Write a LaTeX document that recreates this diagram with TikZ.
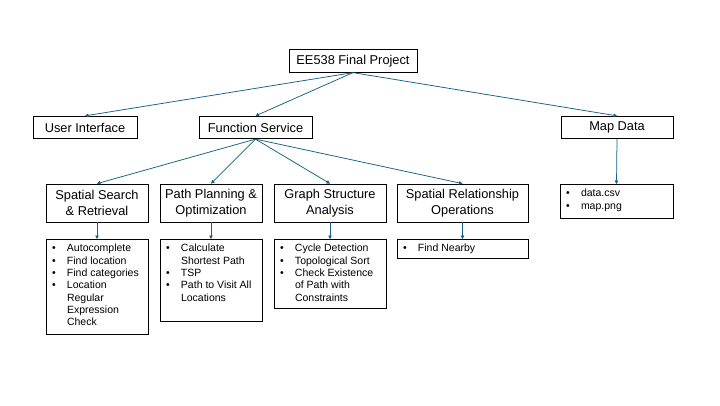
\documentclass[tikz,border=0pt]{standalone}
\usepackage{fontspec}
\setmainfont{Liberation Sans}
\usepackage{xcolor}
\usetikzlibrary{positioning,arrows.meta}
\definecolor{linkblue}{HTML}{156082}
\newcommand{\titlefont}{\fontsize{12.8}{16.5}\selectfont}
\newcommand{\listfont}{\fontsize{10.5}{12.3}\selectfont}
\newcommand{\itemlist}[3]{\parbox[c][#1][t]{#2}{\listfont\vspace*{4pt}\hspace*{6pt}\begin{tabular}[t]{@{}p{15pt}@{}l@{}}#3\end{tabular}}}

\begin{document}
\begin{tikzpicture}[x=1pt, y=-1pt,
    box/.style={draw, line width=0.75pt, minimum height=22.5pt, inner sep=0pt, font=\titlefont, align=center},
    tall/.style={minimum height=38pt},
    listbox/.style={draw, line width=0.75pt, inner sep=0pt, anchor=north},
    link/.style={draw=linkblue, line width=0.75pt, -{Triangle[length=3.5pt,width=3.5pt]}}]
    \fill[white] (0,0) rectangle (720,405);
    \useasboundingbox (0,0) rectangle (720,405);

    % top levels
    \node[box, minimum width=128pt] (proj) at (353,61) {EE538 Final Project};
    \node[box, minimum width=104pt] (ui) at (85,127.5) {User Interface};
    \node[box, minimum width=113pt] (fs) at (255.5,127.5) {Function Service};
    \node[box, minimum width=112pt] (map) at (617,127.5) {Map Data};

    % function groups
    \node[box, tall, minimum width=102pt] (search) at (97,203) {Spatial Search\\\& Retrieval};
    \node[box, tall, minimum width=102pt] (plan) at (211,203) {Path Planning \&\\Optimization};
    \node[box, tall, minimum width=112pt] (graph) at (330,203) {Graph Structure\\Analysis};
    \node[box, tall, minimum width=131pt] (relation) at (462.5,203) {Spatial Relationship\\Operations};

    % item lists
    \node[listbox] (search-list) at (97,239) {\itemlist{95pt}{102pt}{\textbullet & Autocomplete\\ \textbullet & Find location\\ \textbullet & Find categories\\ \textbullet & Location\\ & Regular\\ & Expression\\ & Check}};
    \node[listbox] (plan-list) at (211,239) {\itemlist{82pt}{102pt}{\textbullet & Calculate\\ & Shortest Path\\ \textbullet & TSP\\ \textbullet & Path to Visit All\\ & Locations}};
    \node[listbox] (graph-list) at (330,239) {\itemlist{69pt}{112pt}{\textbullet & Cycle Detection\\ \textbullet & Topological Sort\\ \textbullet & Check Existence\\ & of Path with\\ & Constraints}};
    \node[listbox] (relation-list) at (462.5,239) {\itemlist{19pt}{131pt}{\textbullet & Find Nearby}};
    \node[listbox] (map-list) at (616.5,184) {\itemlist{34pt}{113pt}{\textbullet & data.csv\\ \textbullet & map.png}};

    \foreach \n in {ui,fs,map}
        \draw[link] (proj.south) -- (\n.north);
    \foreach \n in {search,plan,graph,relation}
        \draw[link] (fs.south) -- (\n.north);
    \foreach \n in {search,plan,graph,relation,map}
        \draw[link] (\n.south) -- (\n-list.north);
\end{tikzpicture}
\end{document}
